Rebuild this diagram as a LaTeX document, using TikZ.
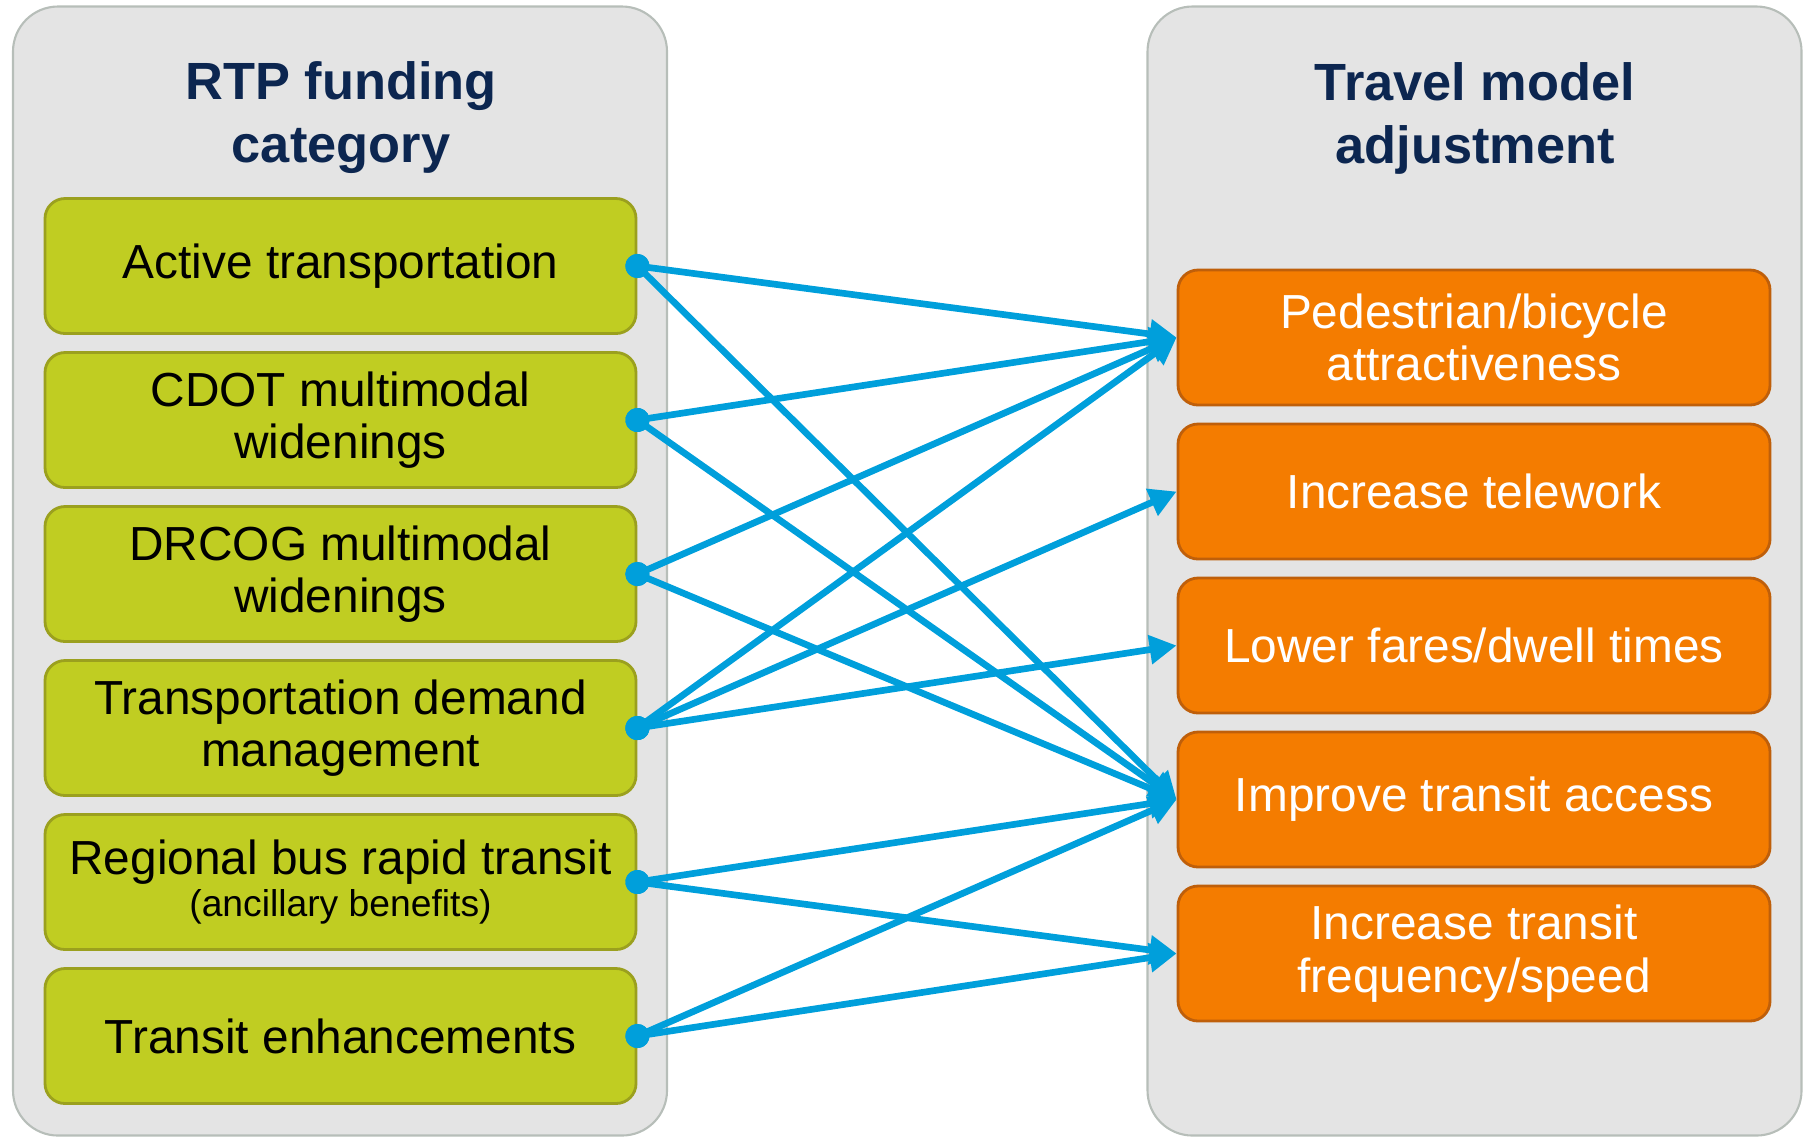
\documentclass[tikz,border=0pt]{standalone}
\usepackage{fontspec}
\setmainfont{Liberation Sans}
\usepackage{tikz}
\usetikzlibrary{positioning, arrows.meta, fit}

\definecolor{panelfill}{HTML}{E4E4E4}
\definecolor{paneledge}{HTML}{B7BEB9}
\definecolor{greenfill}{HTML}{C0CD22}
\definecolor{greenedge}{HTML}{9BA01E}
\definecolor{orangefill}{HTML}{F47C00}
\definecolor{orangeedge}{HTML}{BF5F0A}
\definecolor{linkblue}{HTML}{009FDB}
\definecolor{titlenavy}{HTML}{0C2650}

\tikzstyle{panel} = [rectangle, rounded corners=0.45cm, minimum width=6.54cm, minimum height=11.29cm, draw=paneledge, line width=0.6pt, fill=panelfill]
\tikzstyle{heading} = [align=center, text=titlenavy, font=\bfseries\fontsize{14.9}{17.9}\selectfont]
\tikzstyle{category} = [rectangle, rounded corners=0.2cm, minimum width=5.91cm, minimum height=1.35cm, align=center, draw=greenedge, line width=0.8pt, fill=greenfill, font=\fontsize{13.6}{14.9}\selectfont]
\tikzstyle{adjust} = [rectangle, rounded corners=0.2cm, minimum width=5.92cm, minimum height=1.35cm, align=center, draw=orangeedge, line width=0.8pt, fill=orangefill, text=white, font=\fontsize{13.6}{14.9}\selectfont]
\tikzstyle{link} = [line width=1.9pt, draw=linkblue, shorten <=-0.12cm, {Circle[length=0.24cm]}-{Triangle[length=0.27cm, width=0.28cm]}]

\begin{document}
\begin{tikzpicture}[node distance=1.54cm]
    \useasboundingbox (0,0) rectangle (18.11,-11.36);

    % Panels
    \node (leftpanel) [panel] at (3.40,-5.71) {};
    \node (rightpanel) [panel] at (14.745,-5.71) {};

    % Titles
    \node (lefttitle) [heading] at (3.41,-1.18) {RTP funding\\category};
    \node (righttitle) [heading] at (14.75,-1.18) {Travel model\\adjustment};

    % Funding categories
    \node (active) [category] at (3.405,-2.66) {Active transportation};
    \node (cdot) [category, below of=active] {CDOT multimodal\\widenings};
    \node (drcog) [category, below of=cdot] {DRCOG multimodal\\widenings};
    \node (tdm) [category, below of=drcog] {Transportation demand\\management};
    \node (brt) [category, below of=tdm] {Regional bus rapid transit\\[-3.2pt]{\fontsize{10.6}{11.4}\selectfont (ancillary benefits)}};
    \node (enhance) [category, below of=brt] {Transit enhancements};

    % Model adjustments
    \node (pedbike) [adjust] at (14.74,-3.375) {Pedestrian/bicycle\\attractiveness};
    \node (telework) [adjust, below of=pedbike] {Increase telework};
    \node (fares) [adjust, below of=telework] {Lower fares/dwell times};
    \node (access) [adjust, below of=fares] {Improve transit access};
    \node (frequency) [adjust, below of=access] {Increase transit\\frequency/speed};

    % Links
    \draw [link] (active.east) -- (pedbike.west);
    \draw [link] (active.east) -- (access.west);
    \draw [link] (cdot.east) -- (pedbike.west);
    \draw [link] (cdot.east) -- (access.west);
    \draw [link] (drcog.east) -- (pedbike.west);
    \draw [link] (drcog.east) -- (access.west);
    \draw [link] (tdm.east) -- (pedbike.west);
    \draw [link] (tdm.east) -- (telework.west);
    \draw [link] (tdm.east) -- (fares.west);
    \draw [link] (brt.east) -- (access.west);
    \draw [link] (brt.east) -- (frequency.west);
    \draw [link] (enhance.east) -- (access.west);
    \draw [link] (enhance.east) -- (frequency.west);

\end{tikzpicture}
\end{document}
